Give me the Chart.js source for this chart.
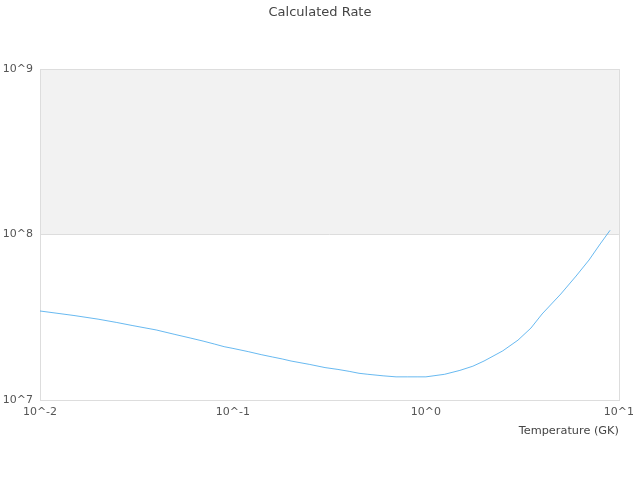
<!DOCTYPE html>
<html>
<head>
<meta charset="utf-8">
<script src="https://cdn.jsdelivr.net/npm/chart.js@4/dist/chart.umd.min.js"></script>
<style>
  html, body { margin: 0; padding: 0; background: #fff; }
  #wrap { width: 640px; height: 480px; }
</style>
</head>
<body>
<div id="wrap"><canvas id="c" width="640" height="480"></canvas></div>
<script>
// Temperature grid (GK)
const temperatures = [0.01, 0.015, 0.02, 0.025, 0.03, 0.04, 0.05, 0.06, 0.07, 0.08, 0.09, 0.1,
  0.12, 0.14, 0.16, 0.18, 0.2, 0.25, 0.3, 0.35, 0.4, 0.45, 0.5, 0.6, 0.7, 0.8, 0.9, 1.0,
  1.25, 1.5, 1.75, 2.0, 2.5, 3.0, 3.5, 4.0, 5.0, 6.0, 7.0, 8.0, 9.0];
// Calculated rate values
const rates = [3.45e7, 3.24e7, 3.08e7, 2.94e7, 2.82e7, 2.65e7, 2.49e7, 2.37e7, 2.27e7, 2.18e7, 2.10e7, 2.05e7,
  1.96e7, 1.88e7, 1.82e7, 1.77e7, 1.72e7, 1.64e7, 1.57e7, 1.53e7, 1.49e7, 1.45e7, 1.43e7, 1.40e7, 1.38e7, 1.38e7, 1.38e7, 1.38e7,
  1.43e7, 1.51e7, 1.60e7, 1.72e7, 1.98e7, 2.30e7, 2.72e7, 3.31e7, 4.37e7, 5.61e7, 7.01e7, 8.77e7, 1.06e8];
// Axis ticks
const xTicks = [0.01, 0.1, 1, 10];
const yTicks = [1e7, 1e8, 1e9];
// Shaded band range
const bandRange = [1e8, 1e9];

const fmtPow = v => '10^' + Math.round(Math.log10(v));

const bandPlugin = {
  id: 'band',
  beforeDraw(chart) {
    const {ctx, chartArea, scales} = chart;
    const yTop = scales.y.getPixelForValue(bandRange[1]);
    const yBot = scales.y.getPixelForValue(bandRange[0]);
    ctx.save();
    ctx.fillStyle = '#f2f2f2';
    ctx.fillRect(chartArea.left, yTop, chartArea.right - chartArea.left, yBot - yTop);
    ctx.restore();
  },
  beforeDatasetsDraw(chart) {
    const {ctx, chartArea} = chart;
    ctx.save();
    ctx.strokeStyle = '#dddddd';
    ctx.lineWidth = 1;
    ctx.strokeRect(Math.round(chartArea.left) + 0.5, Math.round(chartArea.top) + 0.5,
      Math.round(chartArea.right - chartArea.left), Math.round(chartArea.bottom - chartArea.top));
    ctx.restore();
  }
};

new Chart(document.getElementById('c'), {
  type: 'line',
  data: {
    datasets: [{
      label: 'Rate',
      data: temperatures.map((t, i) => ({x: t, y: rates[i]})),
      borderColor: 'rgba(54,162,235,0.75)',
      borderWidth: 1,
      pointRadius: 0,
      tension: 0,
      fill: false
    }]
  },
  options: {
    responsive: false,
    animation: false,
    layout: { padding: 0 },
    plugins: {
      legend: { display: false },
      tooltip: { enabled: false },
      title: {
        display: true,
        text: 'Calculated Rate',
        color: '#444',
        font: { family: 'DejaVu Sans', size: 13, weight: 'normal' },
        padding: { top: 5, bottom: 48.4 }
      }
    },
    scales: {
      x: {
        type: 'logarithmic',
        min: xTicks[0],
        max: xTicks[xTicks.length - 1],
        afterBuildTicks: axis => { axis.ticks = xTicks.map(v => ({value: v})); },
        afterFit: axis => { axis.height = 80; },
        grid: { display: false, drawTicks: false },
        border: { display: false },
        ticks: {
          autoSkip: false, maxRotation: 0, padding: 6,
          color: '#555',
          font: { family: 'DejaVu Sans', size: 11 },
          callback: v => fmtPow(v)
        },
        title: {
          display: true, text: 'Temperature (GK)', align: 'end',
          color: '#444',
          font: { family: 'DejaVu Sans', size: 11.3 },
          padding: { top: 4, bottom: 42 }
        }
      },
      y: {
        type: 'logarithmic',
        min: yTicks[0],
        max: yTicks[yTicks.length - 1],
        afterBuildTicks: axis => { axis.ticks = yTicks.map(v => ({value: v})); },
        afterFit: axis => { axis.width = 40; },
        grid: { display: true, color: '#dddddd', drawTicks: false },
        border: { display: false },
        ticks: {
          padding: 7,
          color: '#555',
          font: { family: 'DejaVu Sans', size: 11 },
          callback: v => fmtPow(v)
        }
      },
      spacer: {
        type: 'linear',
        position: 'right',
        afterFit: axis => { axis.width = 20; },
        grid: { display: false, drawTicks: false },
        border: { display: false },
        ticks: { display: false }
      }
    }
  },
  plugins: [bandPlugin]
});
</script>
</body>
</html>
